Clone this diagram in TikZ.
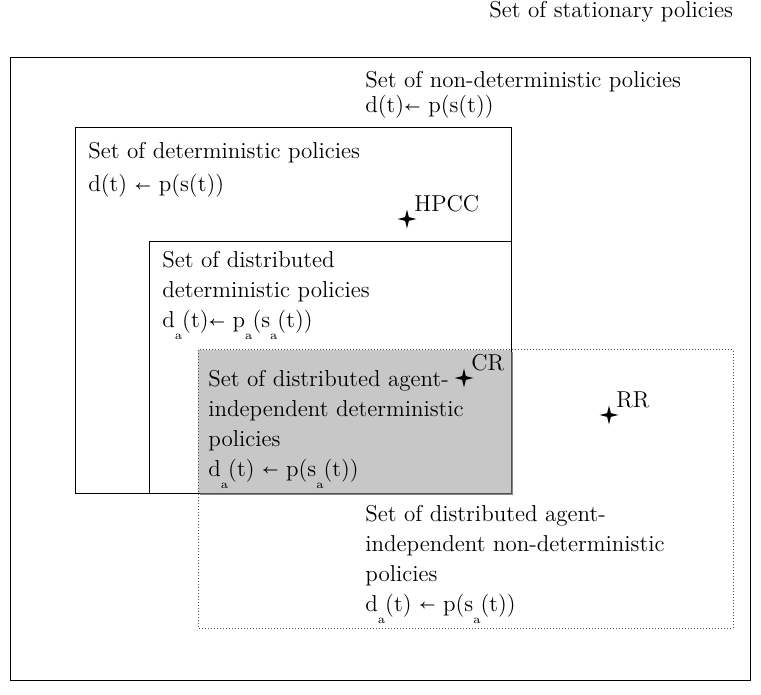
\documentclass[tikz,border=0pt]{standalone}
\usepackage{tikz}
\usetikzlibrary{shapes.geometric, shadows, positioning}

\newcommand{\lowsub}[1]{\raisebox{-6pt}{\fontsize{6}{7}\selectfont #1}}
\newcommand{\assign}{\raisebox{1.2pt}{\fontsize{6}{6}\selectfont\boldmath$\leftarrow$}}

\begin{document}
\begin{tikzpicture}[x=0.5pt, y=-0.5pt,
  setframe/.style={draw=black, line width=0.5pt},
  agentframe/.style={draw=black!70, line width=0.5pt, densely dotted},
  setlabel/.style={anchor=base west, inner sep=0pt, align=left,
    font=\fontsize{11.5}{15}\selectfont},
  policy/.style={star, star points=4, star point ratio=3.6, fill=black,
    inner sep=0pt, minimum size=9.5pt},
  tag/.style={inner sep=0pt, font=\fontsize{11.5}{14}\selectfont},
  node distance=3.5pt and 3.5pt]
  \useasboundingbox (0,0) rectangle (761,695);
  % nested sets
  \draw[setframe] (10,58) rectangle (750,680);
  \draw[setframe] (75,128) rectangle (511,493);
  \draw[setframe] (149,242) rectangle (511,493);
  % agent-independent deterministic part
  \fill[black!22, drop shadow={shadow xshift=0.8pt, shadow yshift=-0.8pt,
    fill=black!60, opacity=0.8}] (198,350) rectangle (511,493);
  \draw[agentframe] (198,350) rectangle (733,628);
  % labels (anchored at the base of their last line)
  \node[setlabel] (stationary) at (489,18) {Set of stationary policies};
  \node[setlabel] (nondet) at (365,113)
    {Set of non-deterministic policies\\[-2.5pt]
     d(t)\assign\ p(s(t))};
  \node[setlabel] (det) at (88,192)
    {Set of deterministic policies\\[1.5pt]
     d(t) \assign\ p(s(t))};
  \node[setlabel] (distdet) at (162,328)
    {Set of distributed\\
     deterministic policies\\
     d\lowsub{a}(t)\assign\ p\lowsub{a}(s\lowsub{a}(t))};
  \node[setlabel] (indepdet) at (208,476)
    {Set of distributed agent-\\
     independent deterministic\\
     policies\\
     d\lowsub{a}(t) \assign\ p(s\lowsub{a}(t))};
  \node[setlabel] (indepnondet) at (365,611)
    {Set of distributed agent-\\
     independent non-deterministic\\
     policies\\
     d\lowsub{a}(t) \assign\ p(s\lowsub{a}(t))};
  % example policies
  \node[policy] (hpcc) at (407,219) {};
  \node[tag, above right=of hpcc.center] (hpcctag) {HPCC};
  \node[policy] (cr) at (464,378) {};
  \node[tag, above right=of cr.center] (crtag) {CR};
  \node[policy] (rr) at (609,415) {};
  \node[tag, above right=of rr.center] (rrtag) {RR};
\end{tikzpicture}
\end{document}
